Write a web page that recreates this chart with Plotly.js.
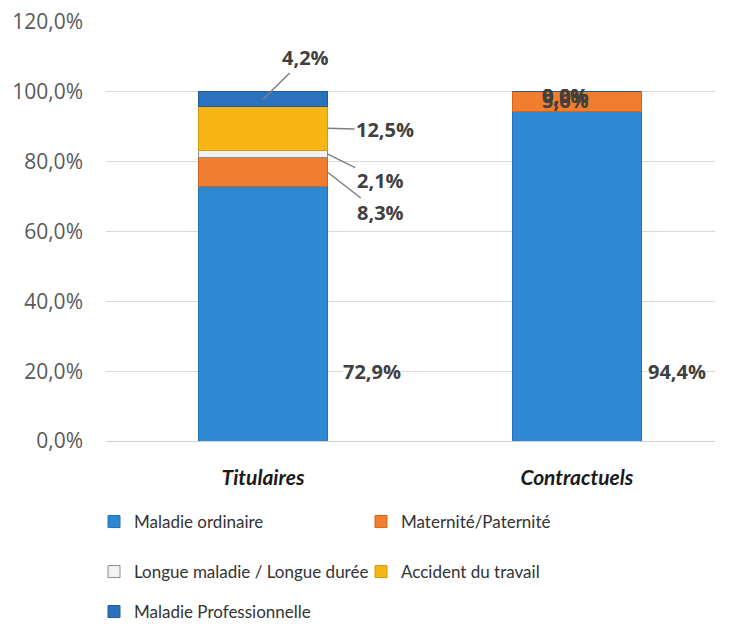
<!DOCTYPE html>
<html>
<head>
<meta charset="utf-8">
<script src="https://cdn.plot.ly/plotly-3.0.1.min.js"></script>
<style>html,body{margin:0;padding:0;background:#fff;}#chart{width:729px;height:624px;}</style>
</head>
<body>
<div id="chart"></div>
<script>
// ---- data ----
const categories = ['Titulaires', 'Contractuels'];
const seriesNames = ['Maladie ordinaire', 'Maternité/Paternité', 'Longue maladie / Longue durée', 'Accident du travail', 'Maladie Professionnelle'];
const maladieOrdinaire = [72.9, 94.4];
const materniteP = [8.3, 5.6];
const longueMaladie = [2.1, 0.0];
const accidentTravail = [12.5, 0.0];
const maladiePro = [4.2, 0.0];
const yTicks = [0, 20, 40, 60, 80, 100, 120];

// ---- styling ----
const values = [maladieOrdinaire, materniteP, longueMaladie, accidentTravail, maladiePro];
const fills = ['#2F88D4', '#F07E2E', '#F2F2F2', '#F7B614', '#2B72BE'];
const lines = ['#2470B8', '#D0661C', '#8C8C8C', '#D89A08', '#1E5C9E'];
const legendIds = ['legend', 'legend', 'legend2', 'legend2', 'legend3'];

// label placement (layout): per category, per series
const labelPlace = [
  [ {lx: 0.347, ly: 19.8, arrow: false},
    {lx: 0.373, ly: 65.3, arrow: true, hx: 0.205},
    {lx: 0.373, ly: 74.7, arrow: true, hx: 0.205},
    {lx: 0.389, ly: 89.1, arrow: true, hx: 0.205},
    {lx: 0.134, ly: 109.7, arrow: true, hx: 0.0} ],
  [ {lx: 0.32, ly: 19.8, arrow: false},
    {lx: -0.035, ly: 97.6, arrow: false},
    {lx: -0.035, ly: 98.9, arrow: false},
    {lx: -0.035, ly: 98.9, arrow: false},
    {lx: -0.035, ly: 98.9, arrow: false} ]
];

const traces = values.map((v, i) => ({
  type: 'bar',
  name: seriesNames[i],
  x: categories,
  y: v,
  width: 0.41,
  marker: {color: fills[i], line: {color: lines[i], width: 1}},
  legend: legendIds[i],
  hoverinfo: 'none'
}));

const fmt = v => v.toFixed(1).replace('.', ',') + '%';
const annotations = [];
categories.forEach((c, ci) => {
  let cum = 0;
  values.forEach((v, si) => {
    const val = v[ci];
    const mid = cum + val / 2;
    cum += val;
    const p = labelPlace[ci][si];
    const a = {
      text: fmt(val),
      font: {family: 'Open Sans', size: 20, weight: 'bold', color: '#404040'},
      xref: 'x', yref: 'y'
    };
    if (p.arrow) {
      Object.assign(a, {
        x: ci + p.hx, y: mid,
        axref: 'x', ayref: 'y', ax: ci + p.lx, ay: p.ly,
        showarrow: true, arrowhead: 0, arrowwidth: 1.5, arrowcolor: '#808080'
      });
    } else {
      Object.assign(a, {x: ci + p.lx, y: p.ly, showarrow: false, bgcolor: si === 0 ? '#ffffff' : 'rgba(0,0,0,0)', borderpad: 0});
    }
    annotations.push(a);
  });
});

const legendBase = {
  orientation: 'h', xref: 'container', yref: 'container', x: 94 / 729, xanchor: 'left', yanchor: 'middle',
  font: {family: 'Lato', size: 17, color: '#333333'}, bgcolor: 'rgba(0,0,0,0)', entrywidth: 222, entrywidthmode: 'pixels',
  traceorder: 'normal'
};

const layout = {
  width: 729, height: 624,
  margin: {l: 106, r: 14, t: 22, b: 183},
  paper_bgcolor: '#ffffff', plot_bgcolor: '#ffffff',
  separators: ', ',
  barmode: 'stack',
  showlegend: true,
  xaxis: {
    type: 'category', range: [-0.5, 1.44], showgrid: false, zeroline: false, showline: false,
    tickfont: {family: 'Lato', size: 21, weight: 'bold', style: 'italic', color: '#1a1a1a'},
    ticklabelstandoff: 22, ticks: ''
  },
  yaxis: {
    range: [0, 120], tickmode: 'array', tickvals: yTicks, ticktext: yTicks.map(fmt),
    showgrid: true, gridcolor: '#D9D9D9', gridwidth: 1, zeroline: true, zerolinecolor: '#D0D0D0', zerolinewidth: 1,
    showline: false, ticks: '',
    tickfont: {family: 'Open Sans', size: 21, color: '#595959'},
    ticklabelstandoff: 22
  },
  legend: Object.assign({}, legendBase, {y: 1 - 522 / 624}),
  legend2: Object.assign({}, legendBase, {y: 1 - 572 / 624}),
  legend3: Object.assign({}, legendBase, {y: 1 - 612 / 624}),
  annotations: annotations
};

Plotly.newPlot('chart', traces, layout, {displayModeBar: false, staticPlot: true});
</script>
</body>
</html>
